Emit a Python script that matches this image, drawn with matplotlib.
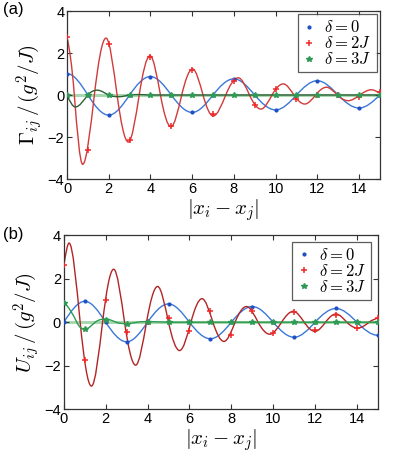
import numpy as np
import matplotlib
matplotlib.use("Agg")
import matplotlib.pyplot as plt
from matplotlib.path import Path
from matplotlib.patches import PathPatch

plt.rcParams['font.family'] = ['Liberation Sans', 'DejaVu Sans']
plt.rcParams['mathtext.fontset'] = 'cm'

# ---------------- data ----------------
sites = np.arange(16)

# panel (a): Gamma_ij at integer separations
a_blue_pts = [1.02, 0, -0.96, 0, 0.88, 0, -0.83, 0, 0.77, 0, -0.71, 0, 0.68, 0, -0.62, 0]
a_red_pts = [2.75, -2.62, 2.44, -2.15, 1.80, -1.49, 1.17, -0.90, 0.65, -0.46, 0.29, -0.18, 0.02, 0.0, -0.10, 0.13]
a_green_pts = [0.0] * 16

# panel (b): U_ij at integer separations
b_blue_pts = [0, 0.96, 0, -0.90, 0, 0.84, 0, -0.76, 0, 0.72, 0, -0.69, 0, 0.63, 0, -0.60]
b_red_pts = [2.64, -1.73, 1.02, -0.46, 0.0, 0.21, -0.41, 0.50, -0.58, 0.52, -0.48, 0.48, -0.36, 0.34, -0.26, 0.20]
b_green_pts = [0.90, -0.33, 0.12, -0.06, 0.0, 0, 0, 0, 0, 0, 0, 0, 0, 0, 0, 0]

# continuous curves: extrema / zero crossings
a_blue_kx = [0, 1, 2, 3, 4, 5, 6, 7, 8, 9, 10, 11, 12, 13, 14, 15]
a_blue_ky = a_blue_pts
a_red_kx = [0, 0.35, 0.75, 1.31, 1.87, 2.40, 2.94, 3.46, 3.98, 4.48, 4.98, 5.50, 6.02, 6.52,
            7.01, 7.61, 8.21, 8.75, 9.30, 9.83, 10.37, 10.88, 11.40, 11.92, 12.44, 12.96,
            13.48, 14.04, 14.60, 15.0]
a_red_ky = [2.75, 0, -3.30, 0, 2.71, 0, -2.24, 0, 1.87, 0, -1.51, 0, 1.24, 0,
            -1.00, 0, 0.82, 0, -0.67, 0, 0.53, 0, -0.43, 0, 0.37, 0,
            -0.27, 0, 0.25, 0.10]
a_green_kx = [0, 0.40, 1.0, 1.45, 2.0, 2.50, 3.0, 3.5, 4.0, 15.0]
a_green_ky = [0, -0.57, 0, 0.23, 0, -0.08, 0, 0.02, 0, 0]

b_blue_kx = [0, 1, 2, 3, 4, 5, 6, 7, 8, 9, 10, 11, 12, 13, 14, 15]
b_blue_ky = b_blue_pts
b_red_kx = [0, 0.25, 0.78, 1.32, 1.85, 2.38, 2.90, 3.43, 3.95, 4.48, 5.00, 5.53, 6.07,
            6.60, 7.12, 7.65, 8.18, 8.72, 9.28, 9.84, 10.40, 10.96, 11.48, 12.00,
            12.50, 13.00, 13.52, 14.04, 14.58, 15.0]
b_red_ky = [2.64, 3.63, 0, -2.93, 0, 2.43, 0, -1.97, 0, 1.64, 0, -1.30, 0,
            1.08, 0, -0.88, 0, 0.72, 0, -0.55, 0, 0.50, 0, -0.42, 0, 0.38, 0,
            -0.27, 0, 0.20]
b_green_kx = [0, 0.62, 1.0, 1.5, 2.0, 2.5, 3.0, 3.5, 4.0, 5.0, 15.0]
b_green_ky = [0.92, 0, -0.33, 0, 0.15, 0, -0.07, 0, 0.03, 0, 0]

labels = [r'$\delta = 0$', r'$\delta = 2J$', r'$\delta = 3J$']


def smooth_path(kx, ky, k0, k1):
    """Cubic Bezier path through key points (Hermite tangents)."""
    kx = np.asarray(kx, float)
    ky = np.asarray(ky, float)
    n = len(kx)
    m = np.zeros(n)
    for i in range(1, n - 1):
        sl = (ky[i] - ky[i - 1]) / (kx[i] - kx[i - 1])
        sr = (ky[i + 1] - ky[i]) / (kx[i + 1] - kx[i])
        if sl * sr <= 0:
            m[i] = 0.0
        else:
            m[i] = (np.pi / 2) * (ky[i + 1] - ky[i - 1]) / (kx[i + 1] - kx[i - 1])
    m[0] = k0 * (ky[1] - ky[0]) / (kx[1] - kx[0])
    m[-1] = k1 * (ky[-1] - ky[-2]) / (kx[-1] - kx[-2])
    verts = [(kx[0], ky[0])]
    codes = [Path.MOVETO]
    for i in range(n - 1):
        h = kx[i + 1] - kx[i]
        verts += [(kx[i] + h / 3, ky[i] + m[i] * h / 3),
                  (kx[i + 1] - h / 3, ky[i + 1] - m[i + 1] * h / 3),
                  (kx[i + 1], ky[i + 1])]
        codes += [Path.CURVE4] * 3
    return Path(verts, codes)


fig = plt.figure(figsize=(3.99, 4.59), dpi=100)
ax_a = fig.add_axes([0.168, 0.610, 0.784, 0.366])
ax_b = fig.add_axes([0.160, 0.108, 0.787, 0.380])

c_blue_line = '#3a78d8'
c_blue_mk = '#1f4fc4'
c_red_mk = '#f02828'
c_green_mk = '#2f9a55'


def draw(ax, blue_pts, red_pts, green_pts, curves, red_line, green_line, ylabel, pad):
    ax.axhline(0, color='#a8d8b0', lw=2.2, zorder=1)
    for (kx, ky, k0, k1), col in zip(curves, [c_blue_line, red_line, green_line]):
        ax.add_patch(PathPatch(smooth_path(kx, ky, k0, k1), facecolor='none',
                               edgecolor=col, lw=1.0, zorder=2))
    ax.plot(sites, blue_pts, ls='none', marker='.', ms=4, color=c_blue_mk, label=labels[0], zorder=3)
    ax.plot(sites, red_pts, ls='none', marker='+', ms=4, mew=1.1, color=c_red_mk, label=labels[1], zorder=3)
    ax.plot(sites, green_pts, ls='none', marker='*', ms=4, color=c_green_mk, label=labels[2], zorder=3)
    ax.set_xlim(0, 15)
    ax.set_ylim(-4, 4)
    ax.set_xticks([0, 2, 4, 6, 8, 10, 12, 14])
    ax.set_yticks([-4, -2, 0, 2, 4])
    ax.tick_params(direction='in', top=True, right=True, length=3.5, width=0.8,
                   labelsize=10.5, pad=2, color='#333333')
    for s in ax.spines.values():
        s.set_linewidth(0.9)
        s.set_color('#333333')
    ax.set_xlabel(r'$|x_i - x_j|$', fontsize=15, labelpad=1)
    ax.set_ylabel(ylabel, fontsize=15, labelpad=2)
    leg = ax.legend(loc='upper right', fontsize=12, frameon=True, fancybox=False,
                    handlelength=0.8, handletextpad=0.5, borderpad=0.3,
                    labelspacing=0.0, borderaxespad=pad, markerscale=1.0)
    leg.get_frame().set_edgecolor('#333333')
    leg.get_frame().set_linewidth(0.9)


draw(ax_a, a_blue_pts, a_red_pts, a_green_pts,
     [(a_blue_kx, a_blue_ky, 0.0, 1.57), (a_red_kx, a_red_ky, 0.6, 1.0), (a_green_kx, a_green_ky, 1.57, 0.0)],
     '#d23a3a', '#2f5f35', r'$\Gamma_{ij}\,/\,(g^2/J)$', 0.2)
draw(ax_b, b_blue_pts, b_red_pts, b_green_pts,
     [(b_blue_kx, b_blue_ky, 1.57, 0.0), (b_red_kx, b_red_ky, 1.3, 1.0), (b_green_kx, b_green_ky, 0.6, 0.0)],
     '#b32525', '#2e9a4e', r'$U_{ij}\,/\,(g^2/J)$', 0.4)

fig.text(0.008, 0.995, '(a)', fontsize=12, va='top', ha='left')
fig.text(0.008, 0.505, '(b)', fontsize=12, va='top', ha='left')

fig.savefig('out.png', dpi=100)
